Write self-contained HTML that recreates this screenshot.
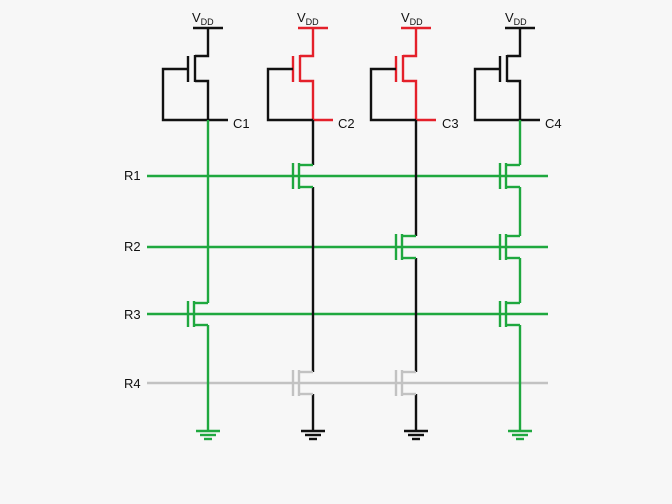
<!DOCTYPE html>
<html><head><meta charset="utf-8"><style>
html,body{margin:0;padding:0;background:#f7f7f7;}
svg{display:block;}
text{font-family:"Liberation Sans",sans-serif;font-size:13px;fill:#111;}
</style></head><body>
<svg width="672" height="504" viewBox="0 0 672 504" xmlns="http://www.w3.org/2000/svg">
<rect width="672" height="504" fill="#f7f7f7"/>
<g id="g" fill="none" stroke-width="2.4" stroke-linecap="butt"></g>
<text x="192" y="22" style="font-size:13px">V<tspan style="font-size:9px" dy="3">DD</tspan></text>
<text x="297" y="22" style="font-size:13px">V<tspan style="font-size:9px" dy="3">DD</tspan></text>
<text x="401" y="22" style="font-size:13px">V<tspan style="font-size:9px" dy="3">DD</tspan></text>
<text x="505" y="22" style="font-size:13px">V<tspan style="font-size:9px" dy="3">DD</tspan></text>
<text x="233" y="128">C1</text>
<text x="338" y="128">C2</text>
<text x="442" y="128">C3</text>
<text x="545" y="128">C4</text>
<text x="124" y="180">R1</text>
<text x="124" y="251">R2</text>
<text x="124" y="319">R3</text>
<text x="124" y="388">R4</text>
</svg>
<script>
const G='#1fa83f',R='#e4202a',K='#111',Y='#c2c2c2';
let s='';
function L(pts,c){s+=`<polyline points="${pts}" stroke="${c}"/>`;}
const cols=[208,313,416,520];
const topC=[K,R,R,K];
const botC=[G,K,K,G];
const rows=[176,247,314,383];
rows.forEach((y,i)=>L(`147,${y} 548,${y}`,i==3?Y:G));
cols.forEach((x,i)=>{
  const c=topC[i];
  L(`${x-15},28 ${x+15},28`,c);
  L(`${x},28 ${x},56 ${x-13},56`,c);
  L(`${x-13},55 ${x-13},82`,c);
  L(`${x-13},81 ${x},81 ${x},120`,c);
  L(`${x-20},56 ${x-20},82`,c);
  L(`${x-20},69 ${x-45},69 ${x-45},120 ${x},120`,K);
  L(`${x},120 ${x+20},120`,c);
});
const T=[[0,2,G],[1,0,G],[1,3,Y],[2,1,G],[2,3,Y],[3,0,G],[3,1,G],[3,2,G]];
function tr(x,y,c){
  L(`${x-20},${y-13} ${x-20},${y+13}`,c);
  L(`${x-14},${y-13} ${x-14},${y+13}`,c);
  L(`${x-14},${y-11} ${x},${y-11}`,c);
  L(`${x-14},${y+11} ${x},${y+11}`,c);
}
cols.forEach((x,i)=>{
  const ts=T.filter(t=>t[0]==i).map(t=>rows[t[1]]);
  let y0=120;
  const segs=[];
  ts.forEach(y=>{segs.push([y0,y-11]);y0=y+11;});
  segs.push([y0,430]);
  segs.forEach(([a,b])=>L(`${x},${a} ${x},${b}`,botC[i]));
  const gc=botC[i];
  L(`${x-12},431 ${x+12},431`,gc);
  L(`${x-8},435 ${x+8},435`,gc);
  L(`${x-4},439 ${x+4},439`,gc);
});
T.forEach(t=>tr(cols[t[0]],rows[t[1]],t[2]));
document.getElementById('g').innerHTML=s;
</script>
</body></html>
